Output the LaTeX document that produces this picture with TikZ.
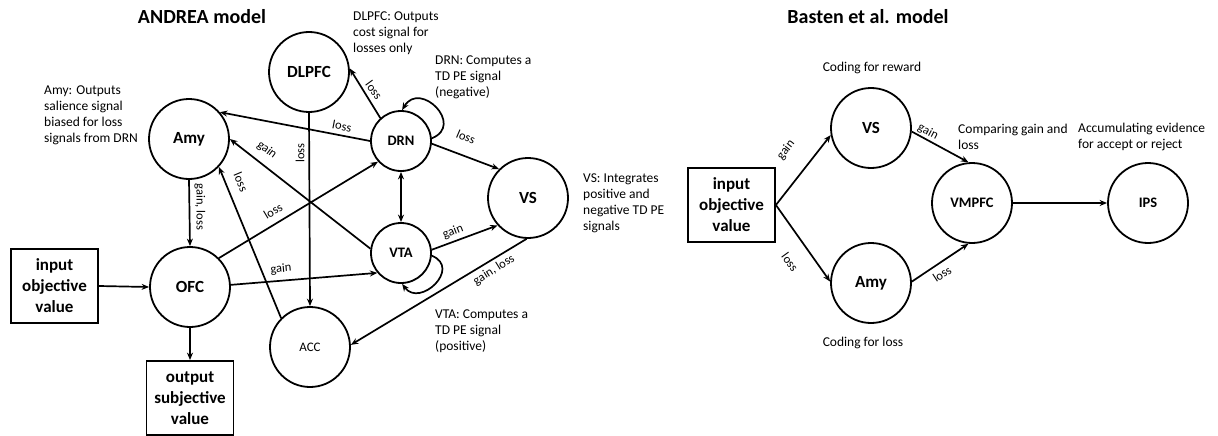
\documentclass[tikz,border=0pt]{standalone}
\usepackage{fontspec}
\setmainfont{Carlito}
\usetikzlibrary{arrows.meta}
\begin{document}
\begin{tikzpicture}[x=1pt,y=-1pt,
  big/.style={circle,draw,line width=1.8pt,minimum size=80pt,inner sep=0pt,font=\fontsize{17}{20}\selectfont\bfseries},
  smallc/.style={circle,draw,line width=1.8pt,minimum size=60pt,inner sep=0pt,font=\fontsize{14.5}{17}\selectfont\bfseries},
  midfont/.style={font=\fontsize{14.5}{17}\selectfont\bfseries},
  valbox/.style={draw,line width=1.8pt,minimum width=87pt,minimum height=74pt,inner sep=0pt,align=center,font=\fontsize{17}{21}\selectfont\bfseries},
  arr/.style={line width=1.7pt,-{Stealth[length=7.5pt,width=6pt]}},
  arrboth/.style={line width=1.7pt,{Stealth[length=7.5pt,width=6pt]}-{Stealth[length=7.5pt,width=6pt]}},
  lbl/.style={font=\fontsize{12.5}{14}\selectfont,inner sep=0pt},
  note/.style={font=\fontsize{13.5}{16}\selectfont,align=left,inner sep=0pt,anchor=west},
  ttl/.style={font=\fontsize{20}{24}\selectfont\bfseries,inner sep=0pt}]
\useasboundingbox (0,0) rectangle (1218,436);

% titles
\node[ttl] (t1) at (202,17) {ANDREA model};
\node[ttl] (t2) at (868,17) {Basten et al. model};

% ANDREA nodes
\node[big] (Amy) at (189,139) {Amy};
\node[big] (DLPFC) at (309,72) {DLPFC};
\node[smallc] (DRN) at (401,141) {DRN};
\node[big] (VS) at (528,198) {VS};
\node[smallc] (VTA) at (401,253) {VTA};
\node[big] (OFC) at (190,287) {OFC};
\node[big,font=\fontsize{13}{16}\selectfont] (ACC) at (310,347) {ACC};
\node[valbox] (in1) at (54.5,286) {input\\objective\\value};
\node[valbox] (out1) at (190,398) {output\\subjective\\value};

% ANDREA edges
\draw[arr] (DRN.180) -- (Amy.41);
\node[lbl,rotate=-11] (l1) at (342,126) {loss};
\draw[arr] (VTA.172) -- (Amy.0);
\node[lbl,rotate=-37] (l2) at (267,150) {gain};
\draw[arr] (ACC.135) -- (Amy.-43);
\node[lbl,rotate=-67] (l3) at (241,182) {loss};
\draw[arr] (Amy.south) -- (OFC.north);
\node[lbl,rotate=-90] (l4) at (200,207) {gain, loss};
\draw[arr] (OFC.45) -- (DRN.222);
\node[lbl,rotate=31] (l5) at (273,211) {loss};
\draw[arr] (OFC.3) -- (VTA.220);
\node[lbl,rotate=5] (l6) at (281,269) {gain};
\draw[arr] (DLPFC.south) -- (ACC.north);
\node[lbl,rotate=90] (l7) at (300,153) {loss};
\draw[arr] (DRN.132) -- (DLPFC.5);
\node[lbl,rotate=-54] (l8) at (374,90) {loss};
\draw[arr] (DRN.-5) -- (VS.135);
\node[lbl,rotate=-23] (l9) at (466,137) {loss};
\draw[arrboth] (DRN.south) -- (VTA.north);
\draw[arr] (VTA.6) -- (VS.222);
\node[lbl,rotate=21] (l10) at (453,232) {gain};
\draw[arr] (VS.-92) -- (ACC.3);
\node[lbl,rotate=32] (l11) at (494,270) {gain, loss};
\draw[arr] (DRN.5) .. controls (465,125) and (420,80) .. (DRN.88);
\draw[arr] (VTA.-5) .. controls (462,268) and (420,308) .. (VTA.-88);
\draw[arr] (in1.east) -- (OFC.west);
\draw[arr] (OFC.south) -- (out1.north);

% ANDREA notes
\node[note] (n1) at (44,115) {Amy: Outputs\\salience signal\\biased for loss\\signals from DRN};
\node[note] (n2) at (353,33) {DLPFC: Outputs\\cost signal for\\losses only};
\node[note] (n3) at (435,77) {DRN: Computes a\\TD PE signal\\(negative)};
\node[note] (n4) at (583,203) {VS: Integrates\\positive and\\negative TD PE\\signals};
\node[note] (n5) at (435,331) {VTA: Computes a\\TD PE signal\\(positive)};

% Basten nodes
\node[valbox] (in2) at (731.5,205) {input\\objective\\value};
\node[big] (VS2) at (871,128) {VS};
\node[big] (Amy2) at (871,283) {Amy};
\node[big,midfont] (VMPFC) at (972,203) {VMPFC};
\node[big,midfont] (IPS) at (1148,203) {IPS};

% Basten edges
\draw[arr] (in2.east) -- (VS2.190);
\node[lbl,rotate=52] (m1) at (786,150) {gain};
\draw[arr] (in2.east) -- (Amy2.178);
\node[lbl,rotate=-54] (m2) at (790,262) {loss};
\draw[arr] (VS2.-5) -- (VMPFC.95);
\node[lbl,rotate=-28] (m3) at (928,132) {gain};
\draw[arr] (Amy2.2) -- (VMPFC.-95);
\node[lbl,rotate=33] (m4) at (942,274) {loss};
\draw[arr] (VMPFC.east) -- (IPS.west);

% Basten notes
\node[note,anchor=center] (n6) at (872,68) {Coding for reward};
\node[note,anchor=center] (n7) at (863,343) {Coding for loss};
\node[note] (n8) at (958,137) {Comparing gain and\\loss};
\node[note] (n9) at (1078,137) {Accumulating evidence\\for accept or reject};
\end{tikzpicture}
\end{document}
